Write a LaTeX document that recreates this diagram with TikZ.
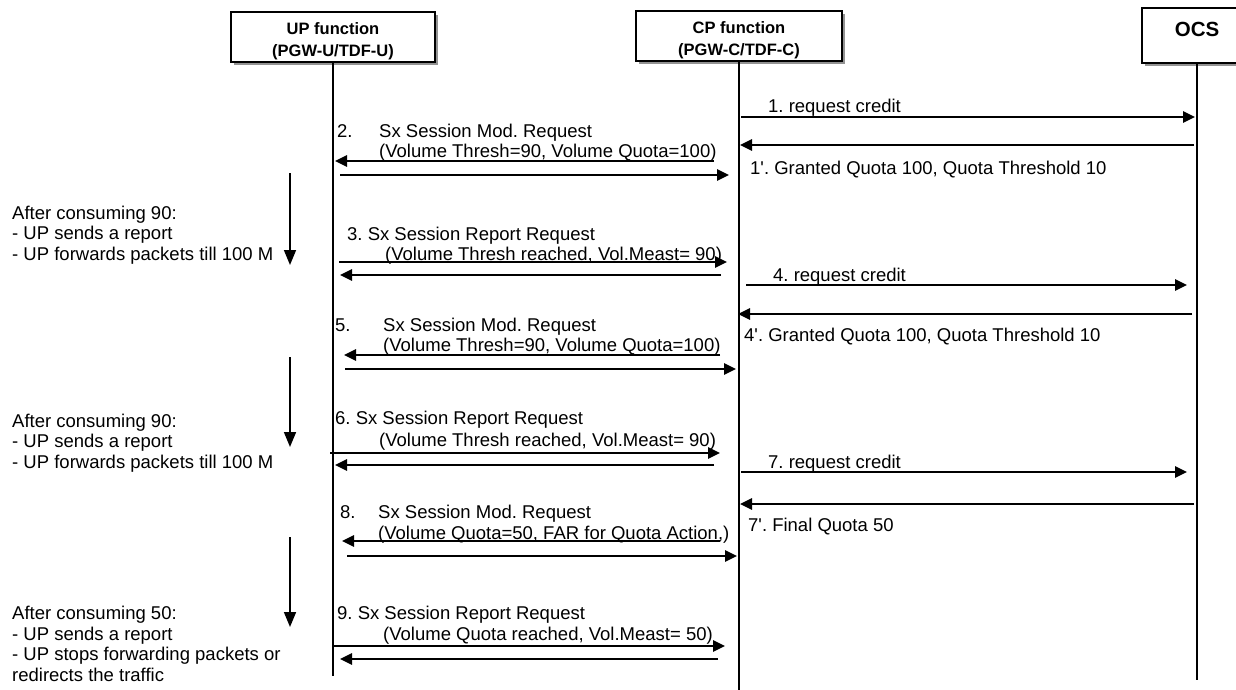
\documentclass[tikz,border=0pt]{standalone}
\usepackage{fontspec}
\setmainfont{Liberation Sans}
\usetikzlibrary{arrows.meta,positioning,shadows}
\frenchspacing

\begin{document}
\begin{tikzpicture}[x=1pt, y=-1pt,
    entity/.style={rectangle, draw=black, line width=1.2pt, fill=white,
        minimum width=204pt, minimum height=50pt, align=center,
        text height=38pt, text depth=0pt,
        font=\fontsize{16.5}{21.5}\selectfont\bfseries,
        drop shadow={shadow xshift=3pt, shadow yshift=-3pt, fill=gray!85, opacity=1}},
    lifeline/.style={line width=1.2pt},
    msg/.style={line width=2.6pt, -{Triangle[length=12pt, width=11pt]}},
    flow/.style={line width=1.6pt, -{Triangle[length=15pt, width=12pt]}},
    lbl/.style={anchor=base west, inner sep=0pt, font=\fontsize{18.5}{20.5}\selectfont},
    note/.style={lbl, align=left}
]
\useasboundingbox (0,0) rectangle (1236,689);

% entities and lifelines
\node[entity] (up) at (333,37) {UP function\\(PGW-U/TDF-U)};
\node[entity, minimum width=206pt] (cp) at (739,36) {CP function\\(PGW-C/TDF-C)};
\node[entity, minimum width=110pt, minimum height=55pt, text height=15pt, text depth=14pt,
      font=\fontsize{20.5}{24}\selectfont\bfseries] (ocs) at (1197,35.5) {OCS};
\coordinate (upend) at (333,676);
\coordinate (cpend) at (739,690);
\coordinate (ocsend) at (1197,680);
\draw[lifeline] (up.south) -- (upend);
\draw[lifeline] (cp.south) -- (cpend);
\draw[lifeline] (ocs.south) -- (ocsend);

% messages
\foreach \name/\xa/\xb/\y in {
    req1/741/1195/117, gnt1/1194/740/145,
    mod2/714/335/161, ack2/340/729/175,
    rep3/339/727/262, ack3/721/340/275,
    req4/746/1187/285, gnt4/1192/738/314,
    mod5/720/344/355, ack5/345/736/369,
    rep6/330/720/453, ack6/714/335/465,
    req7/741/1187/472, gnt7/1194/740/504,
    mod8/720/342/541, ack8/347/737/556,
    rep9/334/725/646, ack9/718/340/659}
{
    \coordinate (\name-s) at (\xa,\y);
    \coordinate (\name-e) at (\xb,\y);
    \draw[msg] (\name-s) -- (\name-e);
}

% consumption on the UP side
\foreach \name/\ya/\yb in {use1/173/265, use2/357/447, use3/537/627}
{
    \coordinate (\name-s) at (290,\ya);
    \coordinate (\name-e) at (290,\yb);
    \draw[flow] (\name-s) -- (\name-e);
}

% labels towards the OCS
\node[lbl] (req1l) at (768,112) {1. request credit};
\node[lbl] (gnt1l) at (750,174) {1\textquotesingle. Granted Quota 100, Quota Threshold 10};
\node[lbl] (req4l) at (773,281) {4. request credit};
\node[lbl] (gnt4l) at (744,341) {4\textquotesingle. Granted Quota 100, Quota Threshold 10};
\node[lbl] (req7l) at (768,468) {7. request credit};
\node[lbl] (gnt7l) at (748,531) {7\textquotesingle. Final Quota 50};

% labels between UP and CP
\node[lbl] (mod2n) at (337,137) {2.};
\node[lbl] (mod2l) at (379,137) {Sx Session Mod. Request};
\node[lbl] (mod2p) at (379,157) {(Volume Thresh=90, Volume Quota=100)};
\node[lbl] (rep3l) at (347,240) {3. Sx Session Report Request};
\node[lbl] (rep3p) at (385,260) {(Volume Thresh reached, Vol.Meast= 90)};
\node[lbl] (mod5n) at (335,331) {5.};
\node[lbl] (mod5l) at (383,331) {Sx Session Mod. Request};
\node[lbl] (mod5p) at (383,351) {(Volume Thresh=90, Volume Quota=100)};
\node[lbl] (rep6l) at (335,424) {6. Sx Session Report Request};
\node[lbl] (rep6p) at (379,446) {(Volume Thresh reached, Vol.Meast= 90)};
\node[lbl] (mod8n) at (340,518) {8.};
\node[lbl] (mod8l) at (378,518) {Sx Session Mod. Request};
\node[lbl] (mod8p) at (378,539) {(Volume Quota=50, FAR for Quota Action,)};
\node[lbl] (rep9l) at (337,619) {9. Sx Session Report Request};
\node[lbl] (rep9p) at (383,640) {(Volume Quota reached, Vol.Meast= 50)};

% notes on the left
\node[note] (use1n) at (12,260) {After consuming 90:\\- UP sends a report\\- UP forwards packets till 100 M};
\node[note] (use2n) at (12,468) {After consuming 90:\\- UP sends a report\\- UP forwards packets till 100 M};
\node[note] (use3n) at (12,681) {After consuming 50:\\- UP sends a report\\- UP stops forwarding packets or\\redirects the traffic};
\end{tikzpicture}
\end{document}
